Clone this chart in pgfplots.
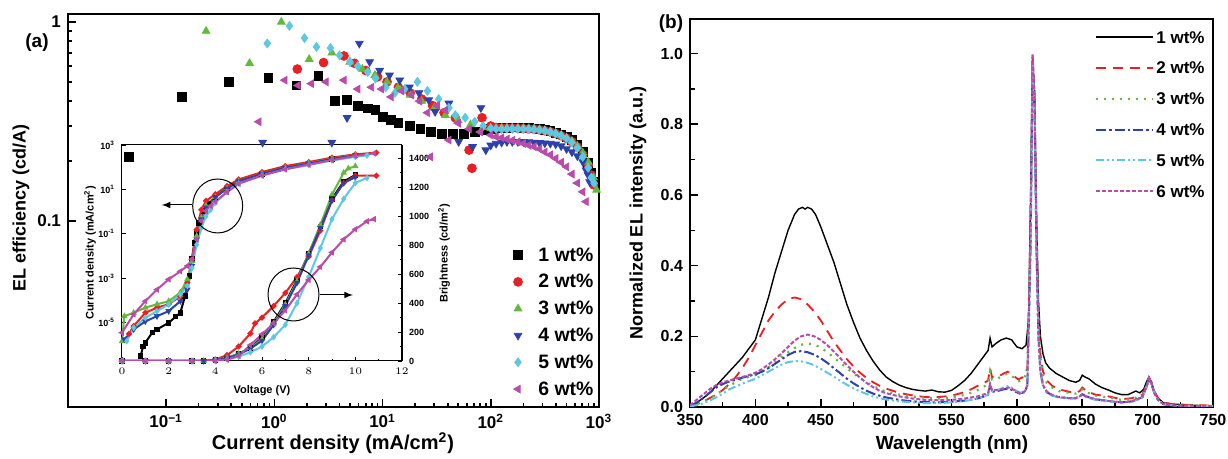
\documentclass[border=0pt]{standalone}
\usepackage{fontspec}
\setmainfont{Liberation Sans}
\usepackage{pgfplots}
\pgfplotsset{compat=1.18}
\definecolor{cblack}{RGB}{0,0,0}
\definecolor{cred}{RGB}{235,30,35}
\definecolor{cgreen}{RGB}{100,185,60}
\definecolor{cblue}{RGB}{45,65,170}
\definecolor{ccyan}{RGB}{95,200,225}
\definecolor{cpurple}{RGB}{185,75,170}
\pgfplotsset{
 mk/.style={only marks, mark size=2.2pt},
 ik/.style={mark size=0.9pt, line width=1pt},
 ln/.style={legend image code/.code={\draw[##1] (0pt,0pt) -- (28.5pt,0pt);}},
}
\begin{document}
\begin{tikzpicture}
\useasboundingbox (0pt,0pt) rectangle (614pt,229.5pt);
% ---------------- inset, current density ----------------
\begin{axis}[
 at={(61pt,49pt)}, anchor=south west, scale only axis, width=140pt, height=108pt,
 xmin=0, xmax=12, ymode=log, ymin=1.8e-7, ymax=1e3,
 xtick={0,2,4,6,8,10,12}, minor x tick num=1,
 ytick={1e-5,1e-3,1e-1,1e1,1e3},
 yticklabels={10\textsuperscript{-5},10\textsuperscript{-3},10\textsuperscript{-1},10\textsuperscript{1},10\textsuperscript{3}},
 xtick pos=bottom, ytick pos=left,
 tick label style={font=\fontsize{4.5}{5}\selectfont\bfseries},
 major tick length=2pt, minor tick length=1pt,
 axis line style={line width=0.5pt}, every tick/.style={black, line width=0.4pt},
]
\addplot[cblack, mark=square*, ik] coordinates {(0.8,3e-7)(0.9,8e-7)(1.0,1.2e-6)(1.3,3.5e-6)(1.5,4.8e-6)(2.0,9.5e-6)(2.3,1.8e-5)(2.5,2.7e-5)(2.7,1.5e-4)(2.9,1.2e-3)(3.0,7e-3)(3.1,3.9e-2)(3.2,0.11)(3.3,0.31)(3.5,1.05)(3.7,2.2)(4.0,4.5)(4.5,11)(5,23)(6,50)(7,95)(8,145)(9,230)(10,330)};
\addplot[cred, mark=*, ik] coordinates {(0.3,3e-6)(0.5,6.8e-6)(1,2.7e-5)(1.5,4.6e-5)(2,6.5e-5)(2.5,1.5e-4)(2.8,6.3e-4)(3,7e-3)(3.2,0.15)(3.4,1.2)(3.6,3.0)(4,6)(4.5,14)(5,28)(6,60)(7,112)(8,170)(9,270)(10,380)(10.9,450)};
\addplot[cgreen, mark=triangle*, ik] coordinates {(0,1.4e-6)(0.1,1.9e-5)(0.5,2.7e-5)(1,4.6e-5)(1.5,6.5e-5)(2,9e-5)(2.5,2.2e-4)(2.8,8.7e-4)(3,5.9e-3)(3.2,0.078)(3.4,0.52)(3.6,1.8)(4,4.5)(4.5,11)(5,23)(6,50)(7,95)(8,150)(9,240)(10,350)};
\addplot[cblue, mark=triangle*, mark options={rotate=180}, ik] coordinates {(0.1,1.7e-6)(0.5,4.8e-6)(1,1.1e-5)(1.5,1.9e-5)(2,3.2e-5)(2.5,9e-5)(2.8,3e-4)(3,3.5e-3)(3.2,0.055)(3.4,0.44)(3.6,1.5)(4,4.5)(4.5,11)(5,23)(6,50)(7,95)(8,145)(9,235)(10,340)};
\addplot[ccyan, mark=diamond*, ik] coordinates {(0.2,1.4e-6)(0.5,5.7e-6)(1,1.6e-5)(1.5,3.2e-5)(2,6.5e-5)(2.5,1.8e-4)(2.8,4.4e-4)(3,2.9e-3)(3.2,0.032)(3.4,0.18)(3.6,0.61)(3.8,1.2)(4,2.5)(4.5,7.5)(5,18)(6,42)(7,80)(8,125)(9,200)(10,290)(10.5,340)};
\addplot[cpurple, mark=triangle*, mark options={rotate=90}, ik] coordinates {(0,3.4e-6)(0.5,2.3e-5)(1,9e-5)(1.5,3e-4)(2,8.7e-4)(2.5,2e-3)(2.8,3.5e-3)(3,7e-3)(3.2,0.055)(3.4,0.37)(3.6,1.05)(3.8,1.8)(4,2.8)(4.5,7.5)(5,18)(6,42)(7,80)(8,130)(9,210)(10,320)(10.8,420)};
\end{axis}
% ---------------- inset, brightness ----------------
\begin{axis}[
 at={(61pt,49pt)}, anchor=south west, scale only axis, width=140pt, height=108pt,
 xmin=0, xmax=12, ymin=0, ymax=1492,
 hide x axis, axis y line*=right,
 ytick={0,200,400,600,800,1000,1200,1400},
 yticklabels={0,200,400,600,800,1000,1200,1400},
 minor y tick num=1,
 tick label style={font=\fontsize{4.5}{5}\selectfont\bfseries},
 major tick length=2pt, minor tick length=1pt,
 axis line style={line width=0.5pt}, every tick/.style={black, line width=0.4pt},
]
\addplot[cblack, mark=square*, ik] coordinates {(0,0)(1,0)(2,0)(3,0)(3.5,0)(4,5)(4.5,20)(5,50)(5.5,90)(6,160)(6.5,270)(7,400)(7.5,560)(8,740)(8.5,930)(9,1120)(9.5,1240)(10,1285)};
\addplot[cred, mark=*, ik] coordinates {(0,0)(1,0)(2,0)(3,0)(3.5,0)(4,10)(4.5,40)(5,100)(5.5,190)(5.7,260)(6,300)(6.5,380)(7,470)(7.5,580)(8,720)(8.5,900)(9,1110)(9.5,1230)(10,1280)(10.9,1280)};
\addplot[cgreen, mark=triangle*, ik] coordinates {(0,0)(1,0)(2,0)(3,0)(3.5,0)(4,5)(4.5,20)(5,50)(5.5,90)(6,150)(6.5,260)(7,390)(7.5,550)(8,740)(8.5,940)(9,1150)(9.5,1300)(9.7,1330)(10,1345)};
\addplot[cblue, mark=triangle*, mark options={rotate=180}, ik] coordinates {(0,0)(1,0)(2,0)(3,0)(3.5,0)(4,5)(4.5,18)(5,45)(5.5,85)(6,140)(6.5,250)(7,380)(7.5,540)(8,730)(8.5,920)(9,1110)(9.5,1230)(10,1270)};
\addplot[ccyan, mark=diamond*, ik] coordinates {(0,0)(1,0)(2,0)(3,0)(4,0)(4.5,10)(5,30)(5.5,60)(6,100)(6.5,165)(7,250)(7.5,400)(8,580)(8.5,780)(9,980)(9.5,1120)(10,1230)(10.5,1265)};
\addplot[cpurple, mark=triangle*, mark options={rotate=90}, ik] coordinates {(0,0)(1,0)(2,0)(3,0)(4,0)(4.5,10)(5,35)(5.5,110)(6,185)(6.5,260)(7,350)(7.5,460)(8,560)(8.5,650)(9,750)(9.5,840)(10,910)(10.5,965)(10.8,980)};
\end{axis}
% inset annotations
\begin{scope}[x=0.5pt,y=0.5pt]
\draw[line width=0.5pt] (217.7,253) ellipse [x radius=12.5pt, y radius=13.5pt];
\draw[-latex, line width=0.5pt] (192,254) -- (161.7,254);
\draw[line width=0.5pt] (293.5,164.5) ellipse [x radius=12.75pt, y radius=13.25pt];
\draw[-latex, line width=0.5pt] (320,164) -- (353,164);
\node[rotate=90, font=\fontsize{5.5}{6}\selectfont\bfseries] at (90,206) {Current density (mA/cm\textsuperscript{2})};
\node[rotate=90, font=\fontsize{5.5}{6}\selectfont\bfseries] at (444,206) {Brightness (cd/m\textsuperscript{2})};
\node[font=\fontsize{5.5}{6}\selectfont\bfseries] at (262,68) {Voltage (V)};
\end{scope}
% ---------------- main panel (a) ----------------
\begin{axis}[
 at={(34pt,26pt)}, anchor=south west, scale only axis, width=265.5pt, height=196.5pt,
 xmode=log, ymode=log, xmin=0.0124, xmax=1000, ymin=0.0116, ymax=1.097,
 xtick={0.1,1,10,100,1000},
 xticklabels={10\textsuperscript{−1},10\textsuperscript{0},10\textsuperscript{1},10\textsuperscript{2},10\textsuperscript{3}},
 ytick={0.1,1}, yticklabels={0.1,1},
 xtick pos=bottom, ytick pos=left,
 tick label style={font=\fontsize{8.5}{10}\selectfont\bfseries},
 axis line style={line width=1pt}, major tick length=4pt, minor tick length=2pt,
 every tick/.style={black, line width=0.8pt},
 legend style={draw=none, fill=none, at={(0.994,0.413)}, anchor=north east,
   font=\fontsize{9.7}{11}\selectfont\bfseries, inner sep=0pt, row sep=3.4pt,
   nodes={text height=7pt, text depth=1pt, inner sep=1pt},
   /tikz/every odd column/.append style={column sep=7pt}},
 legend cell align=left,
]
\addplot[cblack, mark=square*, mk] coordinates {(0.045,0.21)(0.14,0.42)(0.38,0.50)(0.88,0.525)(1.6,0.48)(2.55,0.535)(3.6,0.40)(4.7,0.405)(5.9,0.378)(7.3,0.368)(8.6,0.361)(10,0.334)(12,0.322)(14,0.31)(17.8,0.30)(22.4,0.29)(28,0.28)(35.5,0.275)(44.7,0.275)(56,0.275)(71,0.28)(89,0.285)(100,0.29)(112,0.292)(126,0.293)(141,0.294)(158,0.295)(178,0.295)(200,0.294)(224,0.293)(251,0.292)(282,0.29)(316,0.287)(355,0.283)(398,0.278)(447,0.272)(501,0.265)(562,0.255)(631,0.24)(708,0.222)(794,0.195)(851,0.175)(891,0.158)};
\addlegendentry{1 wt\%}
\addplot[cred, mark=*, mk] coordinates {(1.63,0.58)(2.85,0.625)(4.4,0.675)(5.5,0.62)(7,0.57)(9,0.53)(11,0.5)(14,0.47)(18,0.44)(23,0.41)(29,0.38)(37,0.35)(47,0.33)(63,0.227)(67,0.184)(83,0.33)(100,0.30)(112,0.295)(126,0.293)(141,0.293)(158,0.293)(178,0.292)(200,0.291)(224,0.29)(251,0.289)(282,0.287)(316,0.284)(355,0.28)(398,0.275)(447,0.268)(501,0.26)(562,0.25)(631,0.235)(708,0.215)(794,0.19)(851,0.17)(891,0.152)};
\addlegendentry{2 wt\%}
\addplot[cgreen, mark=triangle*, mk] coordinates {(0.234,0.90)(0.59,0.62)(1.16,1.0)(2.1,0.65)(3.4,0.70)(5,0.63)(6.5,0.58)(8.5,0.54)(11,0.5)(14,0.47)(18,0.43)(23,0.40)(30,0.37)(38,0.34)(50,0.32)(65,0.305)(85,0.295)(100,0.292)(112,0.292)(126,0.292)(141,0.293)(158,0.293)(178,0.293)(200,0.292)(224,0.291)(251,0.29)(282,0.288)(316,0.285)(355,0.281)(398,0.276)(447,0.27)(501,0.262)(562,0.252)(631,0.238)(708,0.22)(794,0.198)(891,0.165)(950,0.143)};
\addlegendentry{3 wt\%}
\addplot[cblue, mark=triangle*, mark options={rotate=180}, mk] coordinates {(0.78,0.248)(3.4,0.248)(4.7,0.33)(6.1,0.78)(7.6,0.63)(9.4,0.57)(11.6,0.54)(14.4,0.51)(17.7,0.47)(21.7,0.44)(26.7,0.405)(30.6,0.354)(41,0.39)(50.5,0.25)(68,0.236)(81,0.37)(90,0.227)(100,0.24)(112,0.245)(126,0.248)(141,0.25)(158,0.25)(178,0.25)(200,0.25)(224,0.249)(251,0.248)(282,0.247)(316,0.246)(355,0.245)(398,0.243)(447,0.238)(501,0.23)(562,0.222)(631,0.212)(708,0.198)(760,0.18)(794,0.17)(820,0.157)};
\addlegendentry{4 wt\%}
\addplot[ccyan, mark=diamond*, mk] coordinates {(0.86,0.78)(1.38,0.955)(1.9,0.83)(2.45,0.75)(3.3,0.74)(4.0,0.68)(5.0,0.63)(5.9,0.60)(7.3,0.56)(8.6,0.52)(10.7,0.47)(13,0.44)(16,0.46)(21,0.50)(26,0.45)(33,0.41)(41,0.37)(47,0.34)(58,0.33)(71,0.315)(85,0.30)(100,0.292)(112,0.29)(126,0.29)(141,0.29)(158,0.29)(178,0.29)(200,0.29)(224,0.289)(251,0.288)(282,0.286)(316,0.284)(355,0.28)(398,0.275)(447,0.268)(501,0.26)(562,0.248)(631,0.232)(708,0.21)(794,0.185)(851,0.165)(900,0.155)};
\addlegendentry{5 wt\%}
\addplot[cpurple, mark=triangle*, mark options={rotate=90}, mk] coordinates {(0.72,0.315)(1.25,0.51)(1.66,0.48)(2.2,0.49)(3.0,0.50)(4.4,0.51)(5.9,0.46)(7.9,0.47)(9.8,0.46)(12,0.42)(15,0.45)(18.5,0.43)(22,0.40)(26,0.35)(27.6,0.21)(32,0.38)(38,0.36)(41,0.255)(50,0.31)(63,0.29)(80,0.28)(100,0.27)(112,0.265)(126,0.262)(141,0.258)(158,0.254)(178,0.25)(200,0.245)(224,0.24)(251,0.236)(282,0.23)(316,0.222)(355,0.215)(398,0.206)(447,0.197)(501,0.187)(562,0.172)(631,0.155)(708,0.14)(760,0.125)};
\addlegendentry{6 wt\%}
\end{axis}
% ---------------- panel (b) ----------------
\begin{axis}[
 at={(345pt,26pt)}, anchor=south west, scale only axis, width=261.5pt, height=194pt,
 xmin=350, xmax=750, ymin=0, ymax=1.098,
 xtick={350,400,450,500,550,600,650,700,750},
 xticklabels={350,400,450,500,550,600,650,700,750},
 ytick={0,0.2,0.4,0.6,0.8,1.0},
 yticklabels={0.0,0.2,0.4,0.6,0.8,1.0},
 minor x tick num=1, minor y tick num=1,
 xtick pos=bottom, ytick pos=left,
 tick label style={font=\fontsize{8}{10}\selectfont\bfseries},
 axis line style={line width=1pt}, major tick length=4pt, minor tick length=2.5pt,
 every tick/.style={black, line width=0.8pt},
 legend style={draw=none, fill=none, at={(0.9885,0.98)}, anchor=north east,
   font=\fontsize{8.5}{10}\selectfont\bfseries, inner sep=0pt, row sep=5.4pt,
   nodes={text height=7pt, text depth=1pt, inner sep=1pt}},
 legend cell align=left,
]
\addplot[cblack, line width=0.7pt, ln] coordinates {(350,0.005)(355,0.012)(360,0.025)(365,0.04)(370,0.06)(375,0.08)(380,0.1)(385,0.12)(390,0.14)(395,0.165)(400,0.19)(405,0.25)(410,0.31)(415,0.38)(420,0.44)(425,0.5)(430,0.545)(433,0.56)(436,0.565)(438,0.56)(440,0.565)(443,0.56)(446,0.545)(450,0.51)(455,0.46)(460,0.41)(465,0.35)(470,0.29)(475,0.24)(480,0.195)(485,0.16)(490,0.13)(495,0.105)(500,0.085)(505,0.072)(510,0.062)(515,0.055)(520,0.05)(525,0.047)(530,0.045)(535,0.048)(540,0.043)(545,0.042)(550,0.047)(555,0.06)(560,0.075)(565,0.095)(570,0.12)(575,0.145)(578,0.16)(579.5,0.195)(581,0.17)(584,0.18)(588,0.19)(592,0.195)(596,0.19)(600,0.17)(604,0.165)(607,0.175)(609,0.25)(610.5,0.6)(612,0.98)(613.5,0.9)(615,0.55)(616.5,0.3)(618,0.2)(620,0.15)(622,0.125)(625,0.11)(630,0.095)(635,0.085)(640,0.075)(645,0.07)(648,0.075)(650,0.09)(652,0.085)(655,0.08)(660,0.065)(665,0.055)(670,0.048)(675,0.04)(680,0.035)(685,0.035)(688,0.04)(691,0.045)(694,0.04)(697,0.05)(699,0.07)(701,0.085)(703,0.07)(705,0.045)(708,0.025)(712,0.012)(720,0.008)(730,0.006)(740,0.004)(750,0.003)};
\addlegendentry{1 wt\%}
\addplot[cred, line width=0.9pt, dash pattern=on 5pt off 3.5pt, ln] coordinates {(350,0.003)(355,0.008)(360,0.015)(365,0.025)(370,0.035)(375,0.048)(380,0.065)(385,0.085)(390,0.11)(395,0.14)(400,0.175)(405,0.21)(410,0.245)(415,0.27)(420,0.29)(425,0.305)(430,0.31)(435,0.305)(440,0.29)(445,0.27)(450,0.245)(455,0.215)(460,0.185)(465,0.16)(470,0.135)(475,0.115)(480,0.097)(485,0.082)(490,0.07)(495,0.06)(500,0.052)(510,0.04)(520,0.033)(530,0.028)(540,0.028)(550,0.032)(560,0.042)(565,0.05)(570,0.06)(575,0.068)(578,0.075)(579.5,0.11)(581,0.085)(585,0.085)(590,0.095)(593,0.1)(597,0.09)(601,0.078)(605,0.085)(608,0.11)(610.5,0.5)(612,1.0)(613.5,0.88)(615,0.5)(616.5,0.25)(618,0.15)(620,0.1)(623,0.075)(627,0.06)(632,0.05)(640,0.043)(645,0.04)(648,0.045)(650,0.055)(653,0.045)(660,0.035)(670,0.03)(680,0.022)(688,0.025)(692,0.03)(696,0.035)(699,0.06)(701,0.083)(703,0.07)(705,0.045)(708,0.025)(712,0.012)(720,0.008)(730,0.006)(740,0.005)(750,0.004)};
\addlegendentry{2 wt\%}
\addplot[cgreen, line width=1.1pt, dash pattern=on 1pt off 3pt, ln] coordinates {(350,0.003)(355,0.008)(360,0.015)(365,0.025)(370,0.035)(375,0.048)(380,0.06)(385,0.07)(390,0.08)(395,0.085)(400,0.09)(405,0.1)(410,0.112)(415,0.127)(420,0.142)(425,0.155)(430,0.167)(435,0.176)(440,0.18)(445,0.177)(450,0.168)(455,0.155)(460,0.14)(465,0.125)(470,0.11)(475,0.095)(480,0.082)(485,0.07)(490,0.06)(495,0.05)(500,0.044)(510,0.035)(520,0.03)(530,0.026)(540,0.024)(550,0.027)(560,0.034)(565,0.04)(570,0.048)(575,0.058)(578,0.065)(579.5,0.1)(581,0.078)(585,0.08)(590,0.09)(593,0.095)(597,0.085)(601,0.072)(605,0.078)(608,0.1)(610.5,0.48)(612,0.97)(613.5,0.85)(615,0.5)(616.5,0.25)(618,0.14)(620,0.09)(623,0.068)(627,0.055)(632,0.045)(640,0.04)(645,0.038)(648,0.042)(650,0.05)(653,0.042)(660,0.032)(670,0.027)(680,0.02)(688,0.022)(692,0.028)(696,0.032)(699,0.058)(701,0.08)(703,0.068)(705,0.042)(708,0.022)(712,0.01)(720,0.006)(730,0.004)(750,0.003)};
\addlegendentry{3 wt\%}
\addplot[cblue, line width=1pt, dash pattern=on 5pt off 1.5pt on 1.2pt off 1.5pt, ln] coordinates {(350,0.003)(355,0.012)(360,0.025)(365,0.04)(370,0.055)(375,0.065)(380,0.072)(385,0.077)(390,0.083)(395,0.088)(400,0.092)(405,0.1)(410,0.11)(415,0.122)(420,0.135)(425,0.147)(430,0.156)(435,0.158)(440,0.155)(445,0.148)(450,0.138)(455,0.125)(460,0.11)(465,0.095)(470,0.08)(475,0.067)(480,0.056)(485,0.046)(490,0.038)(495,0.032)(500,0.027)(510,0.02)(520,0.016)(530,0.014)(540,0.013)(550,0.015)(560,0.018)(570,0.024)(575,0.03)(578,0.034)(579.5,0.062)(581,0.043)(585,0.045)(590,0.05)(594,0.052)(598,0.045)(602,0.038)(606,0.042)(608,0.06)(610.5,0.45)(612,0.99)(613.5,0.85)(615,0.45)(616.5,0.2)(618,0.1)(620,0.06)(623,0.042)(627,0.033)(632,0.028)(640,0.025)(645,0.025)(648,0.03)(650,0.036)(653,0.03)(660,0.022)(670,0.017)(680,0.013)(688,0.016)(692,0.022)(696,0.028)(699,0.055)(701,0.08)(703,0.065)(705,0.04)(708,0.02)(712,0.008)(720,0.004)(730,0.003)(750,0.002)};
\addlegendentry{4 wt\%}
\addplot[ccyan, line width=1pt, dash pattern=on 4pt off 1.5pt on 1pt off 1.5pt on 1pt off 1.5pt, ln] coordinates {(350,0.002)(355,0.005)(360,0.01)(365,0.018)(370,0.027)(375,0.038)(380,0.05)(385,0.058)(390,0.066)(395,0.073)(400,0.08)(405,0.09)(410,0.1)(415,0.11)(420,0.12)(425,0.127)(430,0.13)(435,0.129)(440,0.125)(445,0.118)(450,0.108)(455,0.097)(460,0.086)(465,0.074)(470,0.063)(475,0.053)(480,0.044)(485,0.037)(490,0.03)(495,0.025)(500,0.021)(510,0.016)(520,0.013)(530,0.011)(540,0.011)(550,0.013)(560,0.017)(570,0.023)(575,0.03)(578,0.035)(579.5,0.058)(581,0.045)(585,0.048)(590,0.055)(594,0.06)(598,0.05)(602,0.04)(606,0.043)(608,0.06)(610.5,0.45)(612,0.97)(613.5,0.85)(615,0.45)(616.5,0.2)(618,0.1)(620,0.06)(623,0.04)(627,0.032)(632,0.027)(640,0.024)(645,0.024)(648,0.028)(650,0.034)(653,0.028)(660,0.02)(670,0.016)(680,0.012)(688,0.015)(692,0.02)(696,0.027)(699,0.055)(701,0.08)(703,0.065)(705,0.04)(708,0.02)(712,0.008)(720,0.004)(730,0.003)(750,0.002)};
\addlegendentry{5 wt\%}
\addplot[cpurple, line width=1pt, dash pattern=on 2pt off 1pt, ln] coordinates {(350,0.005)(355,0.02)(360,0.035)(365,0.05)(370,0.062)(375,0.07)(380,0.075)(385,0.08)(390,0.085)(395,0.09)(400,0.097)(405,0.107)(410,0.12)(415,0.135)(420,0.152)(425,0.17)(430,0.188)(435,0.2)(440,0.205)(445,0.2)(450,0.19)(455,0.175)(460,0.157)(465,0.138)(470,0.118)(475,0.1)(480,0.083)(485,0.068)(490,0.056)(495,0.046)(500,0.039)(510,0.03)(520,0.024)(530,0.02)(540,0.019)(550,0.02)(560,0.024)(570,0.03)(575,0.036)(578,0.04)(579.5,0.065)(581,0.048)(585,0.048)(590,0.052)(594,0.055)(598,0.048)(602,0.04)(606,0.044)(608,0.062)(610.5,0.5)(612,1.0)(613.5,0.87)(615,0.45)(616.5,0.2)(618,0.1)(620,0.062)(623,0.043)(627,0.034)(632,0.028)(640,0.025)(645,0.025)(648,0.03)(650,0.036)(653,0.03)(660,0.022)(670,0.017)(680,0.013)(688,0.016)(692,0.022)(696,0.028)(699,0.055)(701,0.082)(703,0.066)(705,0.04)(708,0.02)(712,0.008)(720,0.004)(730,0.003)(750,0.002)};
\addlegendentry{6 wt\%}
\end{axis}
\begin{scope}[x=0.5pt,y=0.5pt]
\node[rotate=90, font=\fontsize{9}{11}\selectfont\bfseries] at (21,251) {EL efficiency (cd/A)};
\node[font=\fontsize{10}{12}\selectfont\bfseries] at (333,16) {Current density (mA/cm\textsuperscript{2})};
\node[font=\fontsize{9.5}{11}\selectfont\bfseries] at (37,416) {(a)};
\node[rotate=90, font=\fontsize{9}{11}\selectfont\bfseries] at (638,246) {Normalized EL intensity (a.u.)};
\node[font=\fontsize{9.5}{11}\selectfont\bfseries] at (952,14) {Wavelength (nm)};
\node[font=\fontsize{9.5}{11}\selectfont\bfseries] at (671,435) {(b)};
\end{scope}
\end{tikzpicture}
\end{document}
